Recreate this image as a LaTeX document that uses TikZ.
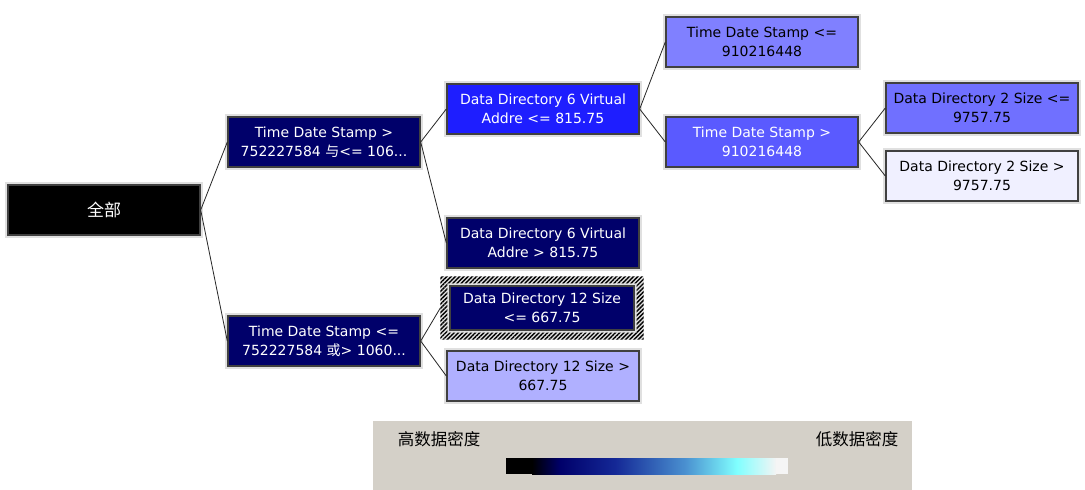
\documentclass[tikz,border=0pt]{standalone}
\usepackage{fontspec}
\setmainfont{DejaVu Sans}
\newfontfamily\cjk{Noto Sans CJK SC}
\usetikzlibrary{calc,patterns.meta}

\definecolor{navyfill}{HTML}{00006A}
\definecolor{bluefill}{HTML}{1E1EFF}
\definecolor{midfill}{HTML}{5A5AFF}
\definecolor{lilac}{HTML}{8080FF}
\definecolor{lilacb}{HTML}{7070FF}
\definecolor{palefill}{HTML}{B0B0FF}
\definecolor{ghost}{HTML}{F0F0FF}
\definecolor{panel}{HTML}{D4D0C8}

\begin{document}
\begin{tikzpicture}[x=1pt,y=-1pt,
    box/.style={draw=black!75, line width=1.4pt,
      preaction={draw=black!12, line width=6pt},
      minimum width=192pt, minimum height=50pt, inner sep=1pt,
      align=center, font=\fontsize{14}{19}\selectfont},
    darkbox/.style={box, fill=#1, text=white},
    lightbox/.style={box, fill=#1, text=black},
    link/.style={draw=black!85, line width=0.8pt},
    seg/.style={shading=axis, shading angle=90}]
  \useasboundingbox[fill=white] (0,0) rectangle (1085,490);

  \node[darkbox=black, font=\fontsize{17}{19}\selectfont] (all) at (104,210) {\cjk 全部};
  \node[darkbox=navyfill] (tdsIn) at (324,142) {Time Date Stamp >\\752227584 {\cjk 与}<= 106...};
  \node[darkbox=navyfill] (tdsOut) at (324,341) {Time Date Stamp <=\\752227584 {\cjk 或}> 1060...};
  \node[darkbox=bluefill] (ddsixLo) at (543,109) {Data Directory 6 Virtual\\Addre <= 815.75};
  \node[darkbox=navyfill] (ddsixHi) at (543,243) {Data Directory 6 Virtual\\Addre > 815.75};
  \node[darkbox=navyfill, minimum width=184pt, minimum height=44pt] (ddtwelveLo) at (542,308) {Data Directory 12 Size\\<= 667.75};
  \node[lightbox=palefill] (ddtwelveHi) at (543,376) {Data Directory 12 Size >\\667.75};
  \node[lightbox=lilac] (tdsLo) at (762,42) {Time Date Stamp <=\\910216448};
  \node[darkbox=midfill] (tdsHi) at (762,142) {Time Date Stamp >\\910216448};
  \node[lightbox=lilacb] (ddtwoLo) at (982,108) {Data Directory 2 Size <=\\9757.75};
  \node[lightbox=ghost] (ddtwoHi) at (982,176) {Data Directory 2 Size >\\9757.75};

  \fill[black!12, even odd rule] ($(ddtwelveLo.south west)+(-9,9)$) rectangle ($(ddtwelveLo.north east)+(9,-9)$)
    ($(ddtwelveLo.south west)+(-2,2)$) rectangle ($(ddtwelveLo.north east)+(2,-2)$);
  \fill[pattern={Lines[angle=45, distance=3pt, line width=1.4pt]}, even odd rule] ($(ddtwelveLo.south west)+(-9,9)$) rectangle ($(ddtwelveLo.north east)+(9,-9)$)
    ($(ddtwelveLo.south west)+(-2,2)$) rectangle ($(ddtwelveLo.north east)+(2,-2)$);

  \path[link] (all.east) -- (tdsIn.west)
    (all.east) -- (tdsOut.west)
    (tdsIn.east) -- (ddsixLo.west)
    (tdsIn.east) -- (ddsixHi.west)
    (tdsOut.east) -- ($(ddtwelveLo.west)+(-9,0)$)
    (tdsOut.east) -- (ddtwelveHi.west)
    (ddsixLo.east) -- (tdsLo.west)
    (ddsixLo.east) -- (tdsHi.west)
    (tdsHi.east) -- (ddtwoLo.west)
    (tdsHi.east) -- (ddtwoHi.west);

  % legend
  \fill[panel] (373,421) rectangle (912,490);
  \node[font=\cjk\fontsize{16.5}{18}\selectfont] (dense) at (439,439) {高数据密度};
  \node[font=\cjk\fontsize{16.5}{18}\selectfont] (sparse) at (857,439) {低数据密度};
  \fill[black] (506,458) rectangle (532,474);
  \shade[seg, left color=black, right color=navyfill] (532,458) rectangle (560,474);
  \shade[seg, left color=navyfill, right color={rgb,255:red,20;green,40;blue,150}] (560,458) rectangle (615,474);
  \shade[seg, left color={rgb,255:red,20;green,40;blue,150}, right color={rgb,255:red,74;green,144;blue,208}] (615,458) rectangle (685,474);
  \shade[seg, left color={rgb,255:red,74;green,144;blue,208}, right color={rgb,255:red,128;green,255;blue,255}] (685,458) rectangle (737,474);
  \shade[seg, left color={rgb,255:red,128;green,255;blue,255}, right color={rgb,255:red,244;green,244;blue,244}] (737,458) rectangle (776,474);
  \fill[black!4] (776,458) rectangle (788,474);
\end{tikzpicture}
\end{document}
